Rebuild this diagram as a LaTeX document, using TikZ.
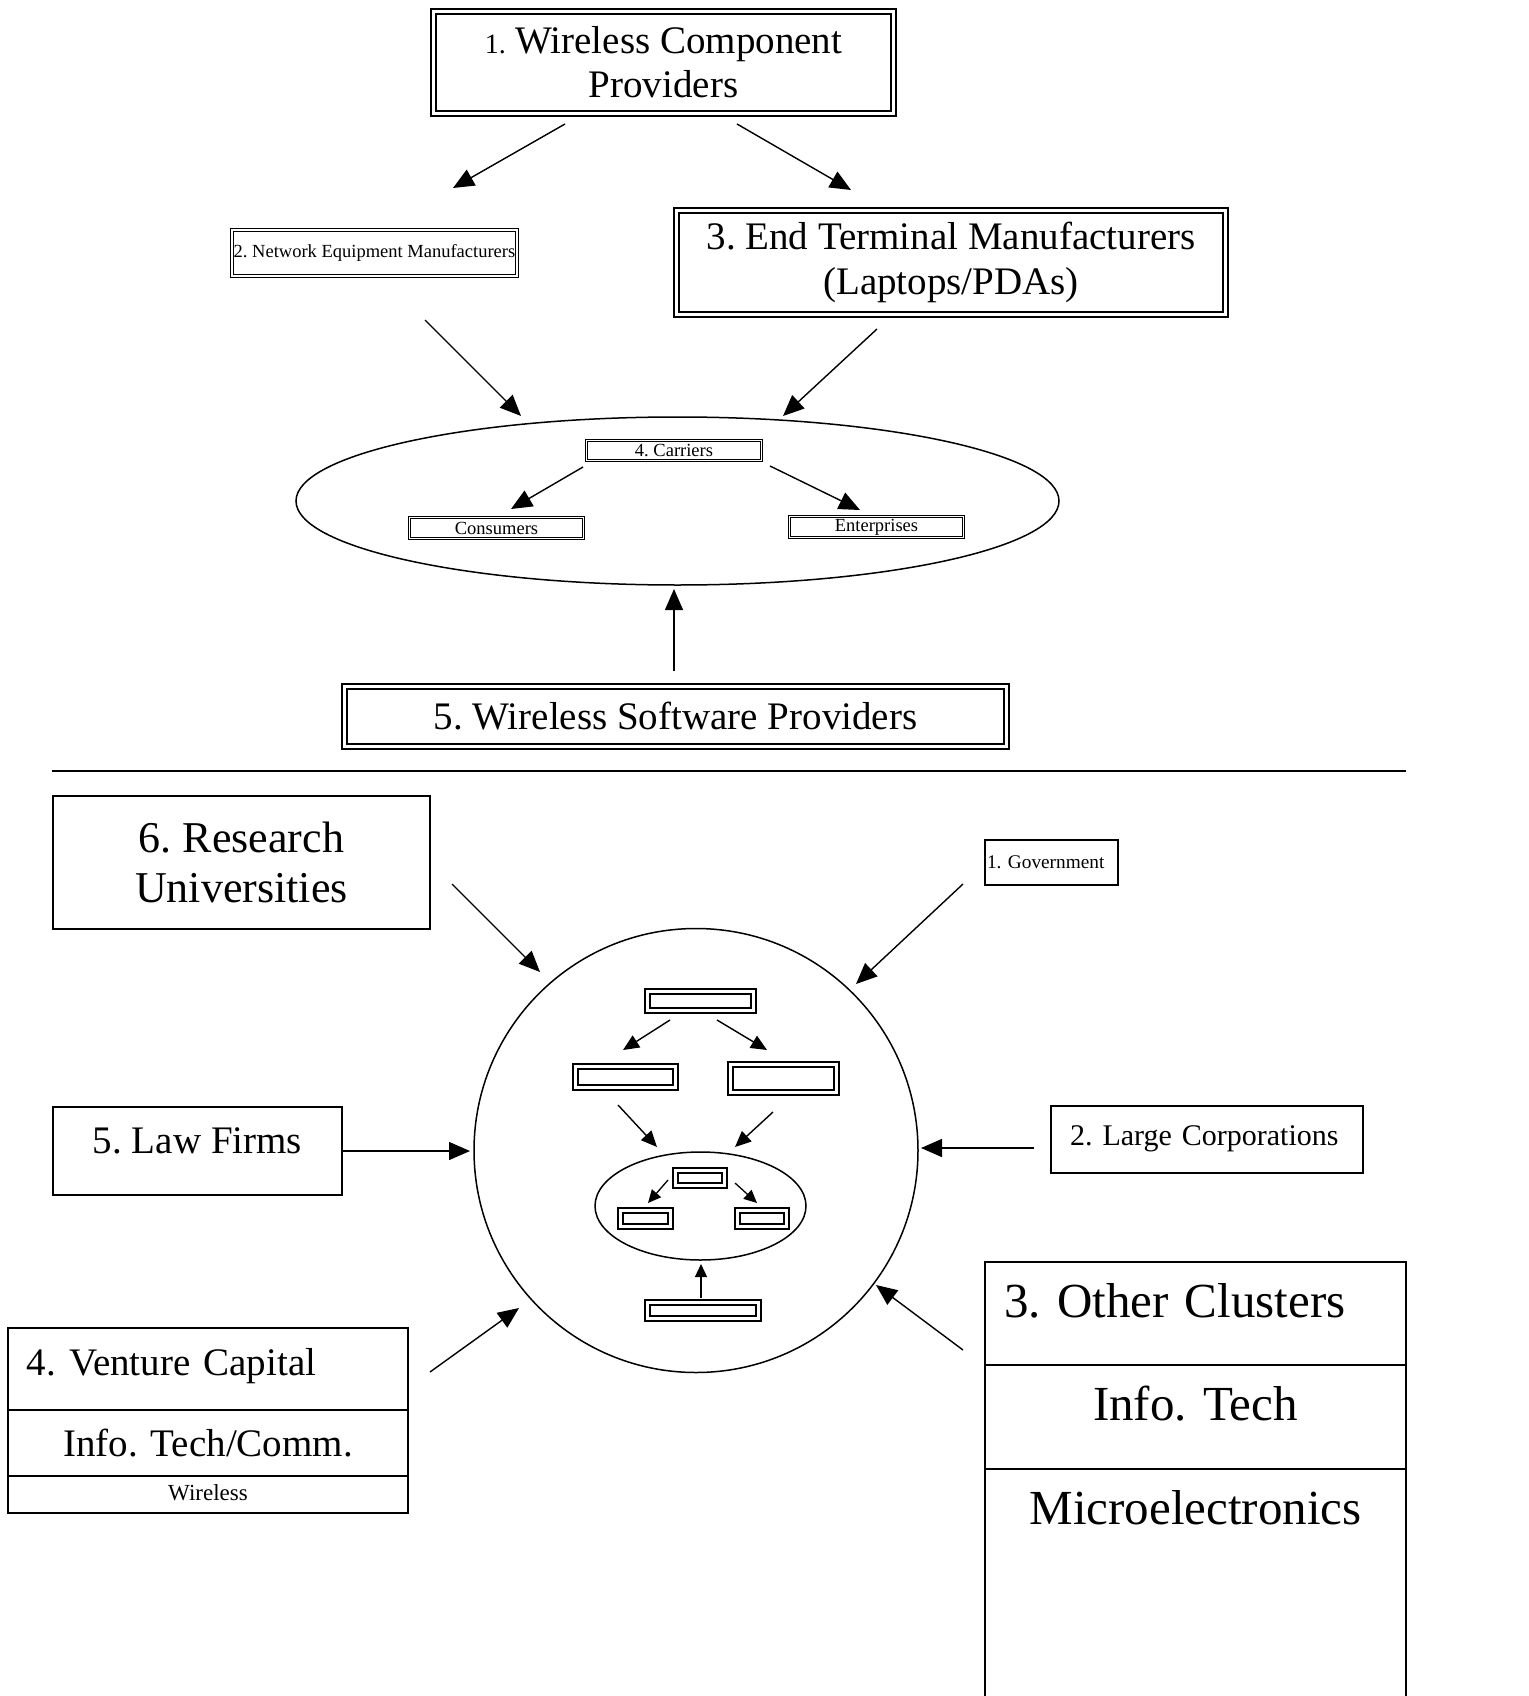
\documentclass[tikz,border=0pt]{standalone}
\usepackage{fontspec}
\setmainfont{Liberation Serif}
\usetikzlibrary{arrows.meta,shapes.geometric}
\frenchspacing
\begin{document}
\begin{tikzpicture}[x=1pt,y=-1pt,
  every node/.style={inner sep=0pt},
  dbl/.style={draw, double, line width=1.8pt, double distance=3pt},
  dblthin/.style={draw, double, line width=0.9pt, double distance=1.6pt},
  dblmini/.style={draw, double, line width=2pt, double distance=2.6pt},
  sbox/.style={draw, line width=1.5pt},
  arr/.style={line width=1.4pt, -{Triangle[length=21pt,width=18pt]}},
  arrs/.style={line width=1.4pt, -{Triangle[length=16pt,width=14pt]}},
  arrxs/.style={line width=1.3pt, -{Triangle[length=13pt,width=12pt]}},
  fbig/.style={font=\fontsize{39}{45}\selectfont\frenchspacing},
  fhuge/.style={font=\fontsize{49}{56}\selectfont\frenchspacing}
]
\useasboundingbox (0,0) rectangle (1528,1696);

% ---------- top part ----------
\node[dbl, minimum width=460.4pt, minimum height=102.4pt, align=center, font=\fontsize{39}{44}\selectfont\frenchspacing] (wcp) at (663.5,62.5)
  {{\fontsize{28}{44}\selectfont 1.} Wireless Component\\Providers};
\node[dblthin, minimum width=285pt, minimum height=46pt, font=\fontsize{18.5}{22}\selectfont\frenchspacing] (nem) at (374.5,253)
  {2. Network Equipment Manufacturers};
\node[dbl, minimum width=549.4pt, minimum height=104.4pt, align=center, fbig] (etm) at (951,262.5)
  {3. End Terminal Manufacturers\\(Laptops/PDAs)};

\node[ellipse, draw, line width=1.5pt, minimum width=763pt, minimum height=168pt] (carz) at (677.5,501) {};
\node[dblthin, minimum width=175pt, minimum height=20pt, font=\fontsize{18.5}{22}\selectfont\frenchspacing] (car) at (674,450.5) {4. Carriers};
\node[dblthin, minimum width=174pt, minimum height=21pt, font=\fontsize{18.5}{22}\selectfont] (con) at (496.5,528) {Consumers};
\node[dblthin, minimum width=174pt, minimum height=21pt, font=\fontsize{18.5}{22}\selectfont] (ent) at (876.5,527) {Enterprises};

\node[dbl, minimum width=662.4pt, minimum height=60.4pt, fbig] (wsp) at (675.5,716.5) {5. Wireless Software Providers};

\coordinate (a1s) at (565,124); \coordinate (a1e) at (453,188);
\coordinate (a2s) at (737,124); \coordinate (a2e) at (851,190);
\coordinate (a3s) at (425,320); \coordinate (a3e) at (521,416);
\coordinate (a4s) at (877,329); \coordinate (a4e) at (783,416);
\coordinate (a5s) at (583,467); \coordinate (a5e) at (511,509);
\coordinate (a6s) at (770,466); \coordinate (a6e) at (860,510);
\coordinate (a7s) at (674,671); \coordinate (a7e) at (674,589);
\draw[arr] (a1s) -- (a1e);
\draw[arr] (a2s) -- (a2e);
\draw[arr] (a3s) -- (a3e);
\draw[arr] (a4s) -- (a4e);
\draw[arr] (a5s) -- (a5e);
\draw[arr] (a6s) -- (a6e);
\draw[arr] (a7s) -- (a7e);

% separator
\draw[line width=1.5pt] (52,771) -- (1406,771);

% ---------- bottom part ----------
\node[sbox, minimum width=377pt, minimum height=133pt, align=center, font=\fontsize{44}{50}\selectfont\frenchspacing] (ru) at (241.5,862.5)
  {6. Research\\Universities};
\node[sbox, text width=129pt, align=left, inner xsep=2pt, minimum height=45pt, font=\fontsize{19.3}{22}\selectfont\frenchspacing] (gov) at (1051.5,862.5)
  {1. Government};
\node[sbox, minimum width=289pt, text height=46pt, text depth=42pt, fbig] (law) at (197.5,1151) {5. Law Firms};
\node[sbox, text width=274pt, inner xsep=19pt, align=left, text height=39pt, text depth=28pt, font=\fontsize{30}{34}\selectfont\frenchspacing] (lc) at (1207,1139.5)
  {2. Large Corporations};

\node[sbox, text width=362pt, inner xsep=19pt, align=left, text height=47pt, text depth=35pt, fbig] (vc1) at (208,1369) {4. Venture Capital};
\node[sbox, text width=400pt, align=center, text height=46pt, text depth=20pt, fbig] (vc2) at (208,1443) {Info. Tech/Comm.};
\node[sbox, text width=400pt, align=center, text height=24pt, text depth=13pt, font=\fontsize{23}{26}\selectfont] (vc3) at (208,1494.5) {Wireless};

\node[sbox, text width=383pt, inner xsep=19pt, align=left, text height=55pt, text depth=48pt, fhuge] (oc1) at (1195.5,1313.5) {3. Other Clusters};
\node[sbox, text width=421pt, align=center, text height=55pt, text depth=49pt, fhuge] (oc2) at (1195.5,1417) {Info. Tech};
\node[sbox, text width=421pt, align=center, text height=55pt, text depth=176pt, fhuge] (oc3) at (1195.5,1584.5) {Microelectronics};

% cluster circle
\node[circle, draw, line width=1.5pt, minimum size=444pt] (cl) at (696,1150.5) {};
\node[dblmini, minimum width=106.4pt, minimum height=19.4pt] (mt) at (700.5,1001) {};
\node[dblmini, minimum width=100.4pt, minimum height=21.4pt] (ml) at (625.5,1077) {};
\node[dblmini, minimum width=106.4pt, minimum height=28.4pt] (mr) at (783.5,1078.5) {};
\node[ellipse, draw, line width=1.5pt, minimum width=211pt, minimum height=108pt] (me) at (700.5,1206) {};
\node[dblmini, minimum width=49.4pt, minimum height=15.4pt] (mct) at (700,1178) {};
\node[dblmini, minimum width=50.4pt, minimum height=16.4pt] (mcl) at (645.5,1218.5) {};
\node[dblmini, minimum width=49.4pt, minimum height=16.4pt] (mcr) at (762,1218.5) {};
\node[dblmini, minimum width=111.4pt, minimum height=16.4pt] (mb) at (703,1310.5) {};

\coordinate (b1s) at (670,1020); \coordinate (b1e) at (623,1050);
\coordinate (b2s) at (717,1020); \coordinate (b2e) at (767,1050);
\coordinate (b3s) at (618,1105); \coordinate (b3e) at (657,1147);
\coordinate (b4s) at (773,1112); \coordinate (b4e) at (735,1147);
\coordinate (b5s) at (668,1180); \coordinate (b5e) at (648,1203);
\coordinate (b6s) at (735,1183); \coordinate (b6e) at (757,1203);
\coordinate (b7s) at (701,1298); \coordinate (b7e) at (701,1264);
\draw[arrs] (b1s) -- (b1e);
\draw[arrs] (b2s) -- (b2e);
\draw[arrs] (b3s) -- (b3e);
\draw[arrs] (b4s) -- (b4e);
\draw[arrxs] (b5s) -- (b5e);
\draw[arrxs] (b6s) -- (b6e);
\draw[arrxs] (b7s) -- (b7e);

% arrows into the circle
\coordinate (c1s) at (452,884);  \coordinate (c1e) at (540,972);
\coordinate (c2s) at (963,884);  \coordinate (c2e) at (856,984);
\coordinate (c3s) at (342,1151); \coordinate (c3e) at (470,1151);
\coordinate (c4s) at (1034,1148);\coordinate (c4e) at (921,1148);
\coordinate (c5s) at (430,1372); \coordinate (c5e) at (519,1308);
\coordinate (c6s) at (963,1350); \coordinate (c6e) at (876,1285);
\draw[arr] (c1s) -- (c1e);
\draw[arr] (c2s) -- (c2e);
\draw[arr] (c3s) -- (c3e);
\draw[arr] (c4s) -- (c4e);
\draw[arr] (c5s) -- (c5e);
\draw[arr] (c6s) -- (c6e);
\end{tikzpicture}
\end{document}
